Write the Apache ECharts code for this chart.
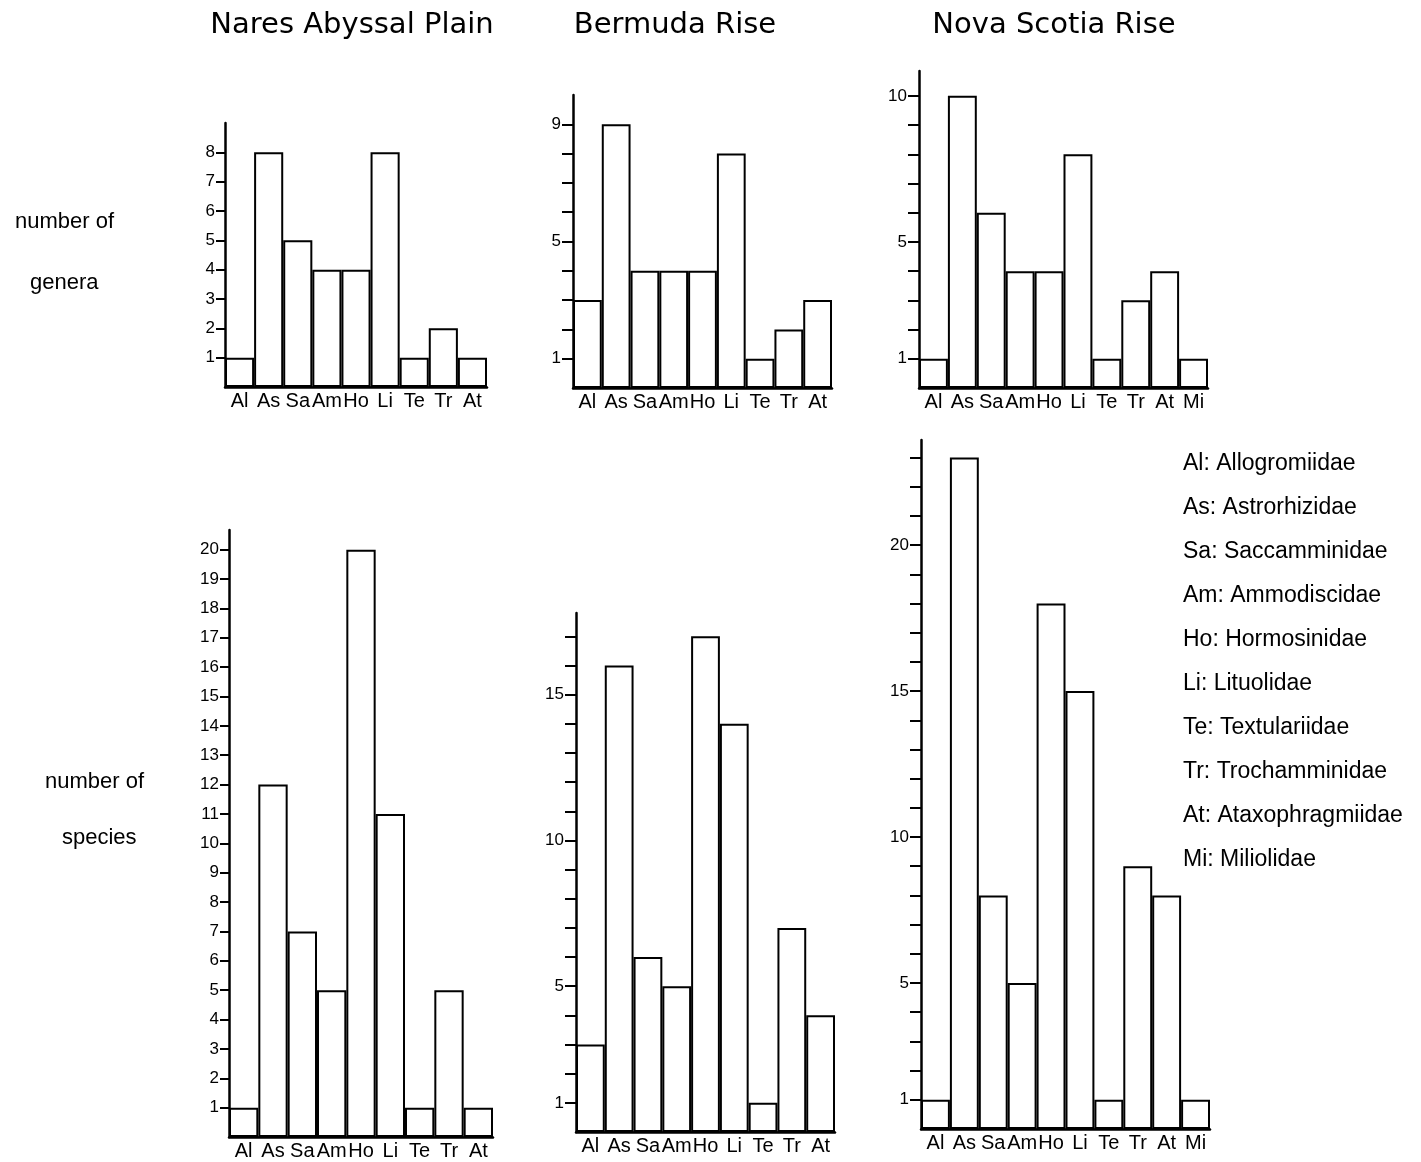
<!DOCTYPE html>
<html>
<head>
<meta charset="utf-8">
<script src="https://cdn.jsdelivr.net/npm/echarts@6/dist/echarts.min.js"></script>
<style>
html,body{margin:0;padding:0;background:#fff;}
#chart{width:1421px;height:1162px;}
</style>
</head>
<body>
<div id="chart"></div>
<script>
// ---- data ----
const categories9 = ['Al', 'As', 'Sa', 'Am', 'Ho', 'Li', 'Te', 'Tr', 'At'];
const categories10 = ['Al', 'As', 'Sa', 'Am', 'Ho', 'Li', 'Te', 'Tr', 'At', 'Mi'];

const naresGenera   = [1, 8, 5, 4, 4, 8, 1, 2, 1];
const bermudaGenera = [3, 9, 4, 4, 4, 8, 1, 2, 3];
const novaGenera    = [1, 10, 6, 4, 4, 8, 1, 3, 4, 1];

const naresSpecies   = [1, 12, 7, 5, 20, 11, 1, 5, 1];
const bermudaSpecies = [3, 16, 6, 5, 17, 14, 1, 7, 4];
const novaSpecies    = [1, 23, 8, 5, 18, 15, 1, 9, 8, 1];

const naresGeneraTicks    = [1, 2, 3, 4, 5, 6, 7, 8];
const naresGeneraLabels   = [1, 2, 3, 4, 5, 6, 7, 8];
const bermudaGeneraTicks  = [1, 2, 3, 4, 5, 6, 7, 8, 9];
const bermudaGeneraLabels = [1, 5, 9];
const novaGeneraTicks     = [1, 2, 3, 4, 5, 6, 7, 8, 9, 10];
const novaGeneraLabels    = [1, 5, 10];

const naresSpeciesTicks    = [1,2,3,4,5,6,7,8,9,10,11,12,13,14,15,16,17,18,19,20];
const naresSpeciesLabels   = [1,2,3,4,5,6,7,8,9,10,11,12,13,14,15,16,17,18,19,20];
const bermudaSpeciesTicks  = [1,2,3,4,5,6,7,8,9,10,11,12,13,14,15,16,17];
const bermudaSpeciesLabels = [1, 5, 10, 15];
const novaSpeciesTicks     = [1,2,3,4,5,6,7,8,9,10,11,12,13,14,15,16,17,18,19,20,21,22,23];
const novaSpeciesLabels    = [1, 5, 10, 15, 20];

const siteTitles = ['Nares Abyssal Plain', 'Bermuda Rise', 'Nova Scotia Rise'];
const rowLabels = [['number of', 'genera'], ['number of', 'species']];
const familyCodes = ['Al', 'As', 'Sa', 'Am', 'Ho', 'Li', 'Te', 'Tr', 'At', 'Mi'];
const familyNames = ['Allogromiidae', 'Astrorhizidae', 'Saccamminidae', 'Ammodiscidae', 'Hormosinidae',
  'Lituolidae', 'Textulariidae', 'Trochamminidae', 'Ataxophragmiidae', 'Miliolidae'];

// ---- layout ----
const panels = [
  {cats: categories9,  data: naresGenera,    ticks: naresGeneraTicks,    labels: naresGeneraLabels,    max: 9,     box: [225, 123, 262, 264], tick: 9},
  {cats: categories9,  data: bermudaGenera,  ticks: bermudaGeneraTicks,  labels: bermudaGeneraLabels,  max: 10,    box: [573, 95, 259, 293],  tick: 11},
  {cats: categories10, data: novaGenera,     ticks: novaGeneraTicks,     labels: novaGeneraLabels,     max: 10.85, box: [919, 71, 289, 317],  tick: 11},
  {cats: categories9,  data: naresSpecies,   ticks: naresSpeciesTicks,   labels: naresSpeciesLabels,   max: 20.67, box: [229, 530, 264, 607], tick: 9},
  {cats: categories9,  data: bermudaSpecies, ticks: bermudaSpeciesTicks, labels: bermudaSpeciesLabels, max: 17.8,  box: [576, 613, 259, 519], tick: 11},
  {cats: categories10, data: novaSpecies,    ticks: novaSpeciesTicks,    labels: novaSpeciesLabels,    max: 23.6,  box: [921, 440, 289, 689], tick: 11}
];

const FONT = '"Liberation Sans", Arial, sans-serif';
const grid = [], xAxis = [], yAxis = [], series = [];
panels.forEach((p, i) => {
  grid.push({left: p.box[0], top: p.box[1], width: p.box[2], height: p.box[3], containLabel: false});
  xAxis.push({
    type: 'category', gridIndex: i, data: p.cats,
    axisLine: {lineStyle: {color: '#000', width: 2.5}},
    axisTick: {show: false},
    axisLabel: {interval: 0, color: '#000', fontFamily: FONT, fontSize: 20, margin: 4}
  });
  yAxis.push({
    type: 'value', gridIndex: i, min: 0, max: p.max,
    splitLine: {show: false},
    axisLine: {show: true, lineStyle: {color: '#000', width: 2.5}},
    axisTick: {show: true, customValues: p.ticks, length: p.tick, lineStyle: {color: '#000', width: 2}},
    axisLabel: {customValues: p.labels, color: '#000', fontFamily: FONT, fontSize: 17, margin: p.tick + 1}
  });
  series.push({
    type: 'bar', xAxisIndex: i, yAxisIndex: i, data: p.data,
    barCategoryGap: '0%',
    itemStyle: {color: '#fff', borderColor: '#000', borderWidth: 2},
    silent: true, animation: false
  });
});

const graphic = [];
const titleCenters = [352, 675, 1054];
siteTitles.forEach((t, i) => {
  graphic.push({type: 'text', x: titleCenters[i], y: 25,
    style: {text: t, fill: '#000', font: '29px "DejaVu Sans", sans-serif', textAlign: 'center', textVerticalAlign: 'middle'}});
});
const rowLabelPos = [[[15, 222], [30, 283]], [[45, 782], [62, 838]]];
rowLabels.forEach((pair, r) => {
  pair.forEach((t, k) => {
    graphic.push({type: 'text', x: rowLabelPos[r][k][0], y: rowLabelPos[r][k][1],
      style: {text: t, fill: '#000', font: '22px "Liberation Sans", Arial, sans-serif', textAlign: 'left', textVerticalAlign: 'middle'}});
  });
});
familyCodes.forEach((c, k) => {
  graphic.push({type: 'text', x: 1183, y: 464 + k * 44,
    style: {text: c + ': ' + familyNames[k], fill: '#000', font: '23px "Liberation Sans", Arial, sans-serif', textAlign: 'left', textVerticalAlign: 'middle'}});
});

const chart = echarts.init(document.getElementById('chart'), null, {renderer: 'canvas'});
chart.setOption({
  backgroundColor: '#fff',
  animation: false,
  grid, xAxis, yAxis, series, graphic
});
</script>
</body>
</html>
